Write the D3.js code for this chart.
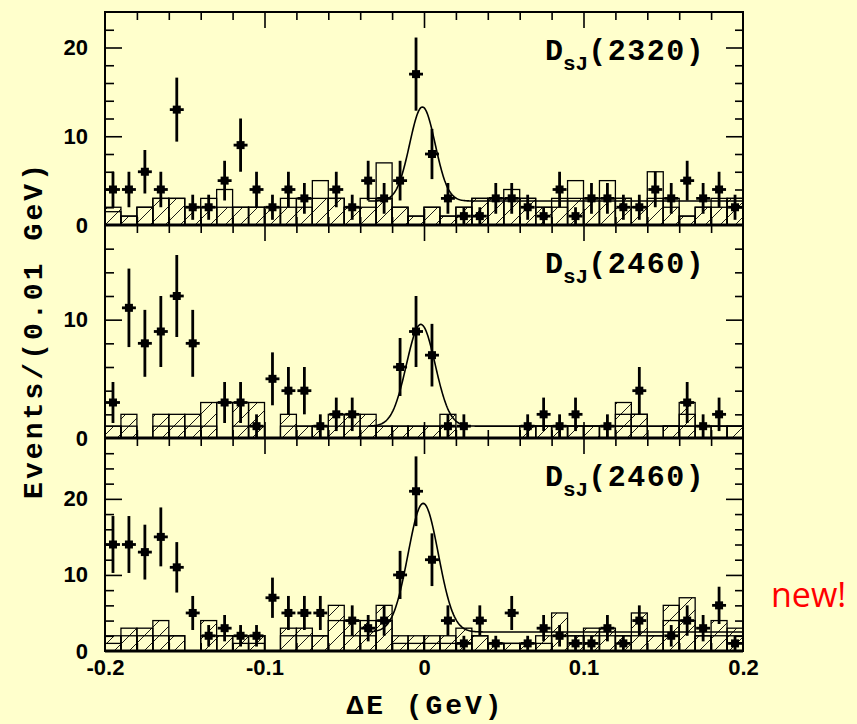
<!DOCTYPE html>
<html>
<head>
<meta charset="utf-8">
<script src="https://cdn.jsdelivr.net/npm/d3@7/dist/d3.min.js"></script>
<style>
html, body { margin: 0; padding: 0; background: #ffffcc; }
svg { display: block; }
</style>
</head>
<body>
<svg id="chart" width="857" height="724"></svg>
<script>
// 40 bins of 0.01 GeV from -0.2 to 0.2
var binLo = -0.2, binW = 0.01;

// events per bin (points with sqrt(N) errors)
var counts1 = [4,4,6,4,13,2,2,5,9,4, 2,4,3,0,4,2,5,3,5,17, 8,3,1,1,3,3,2,1,4,1, 3,3,2,2,4,3,5,3,4,2];
var counts2 = [3,11,8,9,12,8,0,3,3,1, 5,4,4,1,2,2,0,0,6,9, 7,1,1,0,0,0,1,2,1,2, 0,1,0,4,0,0,3,1,2,0];
var counts3 = [14,14,13,15,11,5,2,3,2,2, 7,5,5,5,0,4,3,4,10,21, 12,4,1,4,1,5,1,3,2,1, 1,3,1,4,0,2,4,3,6,1];

// hatched background histograms
var hatch1 = [2,1,2,3,3,2,2,2,2,2, 2,2,2,3,3,2,2,3,2,1, 2,1,2,3,3,3,3,2,2,3, 3,3,3,2,3,2,1,2,2,3];
var hatch2 = [1,2,0,2,2,2,3,0,3,3, 0,2,1,1,2,2,2,1,1,1, 1,2,0,0,0,0,1,1,1,1, 1,0,3,2,0,1,3,0,0,1];
var hatch3 = [2,3,3,4,2,0,4,2,2,2, 0,3,3,2,6,4,4,6,2,2, 2,2,3,2,1,1,1,2,5,2, 3,3,2,5,2,6,7,2,4,3];

// open (outline only) histograms
var open1 = [1.5,1,2,3,3,2,3,4,2,2, 2,3,3,5,3,2,3,7,2,1, 2,1,2,3,3,4,3,2,3,5, 3,5,3,2,6,3,1,2,3,3];
var open2 = [1,1,0,1,1,1,1,3,1,1, 0,1,1,1,1,1,1,1,1,1, 1,1,0,0,0,0,1,1,1,1, 1,1,2,2,0,1,2,1,1,1];
var open3 = [1,2,2,2,2,0,2,2,1,1, 0,2,2,2,4,2,2,4,1,1, 1,1,1,2,1,1,1,1,2,2, 2,2,2,2,2,4,4,2,2,2];

// gaussian + flat background fits
var fitBg    = [2.7, 1.0, 2.5];
var fitAmp   = [10.6, 8.6, 16.9];
var fitMean  = [-0.001, -0.002, -0.0005];
var fitSigma = [0.008, 0.009, 0.0095];
var fitFrom = -0.035, fitTo = 0.2;

var yMax = [24, 18, 28];
var yLabels = [[0,10,20], [0,10], [0,10,20]];
var panelNames = ["2320", "2460", "2460"];

var xTicks = [-0.2,-0.1,0,0.1,0.2];
var xTickLabels = ["-0.2","-0.1","0","0.1","0.2"];
var xMinor = [-0.18,-0.16,-0.14,-0.12,-0.08,-0.06,-0.04,-0.02,0.02,0.04,0.06,0.08,0.12,0.14,0.16,0.18];
var xMajor = [-0.1,0,0.1];

var width = 857, height = 724;
var margin = {top: 12, right: 114, bottom: 73, left: 105};
var panelH = (height - margin.top - margin.bottom) / 3;
var mono = "'Liberation Mono', 'Courier New', monospace";
var sans = "'Liberation Sans', Arial, sans-serif";

var svg = d3.select("#chart");

var x = d3.scaleLinear().domain([-0.2, 0.2]).range([margin.left, width - margin.right]);

svg.append("rect").attr("width", width).attr("height", height).attr("fill", "#ffffcc");

var defs = svg.append("defs");
defs.append("pattern")
    .attr("id", "hatch")
    .attr("patternUnits", "userSpaceOnUse")
    .attr("width", 15).attr("height", 15)
  .append("path")
    .attr("d", "M0,15 L15,0 M-4,4 L4,-4 M11,19 L19,11")
    .attr("stroke", "#000")
    .attr("stroke-width", 0.9);

var panels = [
  {counts: counts1, hatch: hatch1, open: open1},
  {counts: counts2, hatch: hatch2, open: open2},
  {counts: counts3, hatch: hatch3, open: open3}
];

function binX(i) { return binLo + i * binW; }

panels.forEach(function(p, k) {
  var top = margin.top + k * panelH, bottom = top + panelH;
  var y = d3.scaleLinear().domain([0, yMax[k]]).range([bottom, top]);

  defs.append("clipPath").attr("id", "clip" + k)
    .append("rect").attr("x", x(-0.2)).attr("y", top)
    .attr("width", x(0.2) - x(-0.2)).attr("height", panelH);

  var g = svg.append("g").attr("clip-path", "url(#clip" + k + ")");

  // hatched histogram, one box per bin
  p.hatch.forEach(function(v, i) {
    if (v <= 0) return;
    g.append("rect")
      .attr("x", x(binX(i))).attr("width", x(binX(i + 1)) - x(binX(i)))
      .attr("y", y(v)).attr("height", y(0) - y(v))
      .attr("fill", "url(#hatch)").attr("stroke", "#000").attr("stroke-width", 1.3);
  });

  p.open.forEach(function(v, i) {
    if (v <= 0) return;
    g.append("rect")
      .attr("x", x(binX(i))).attr("width", x(binX(i + 1)) - x(binX(i)))
      .attr("y", y(v)).attr("height", y(0) - y(v))
      .attr("fill", "none").attr("stroke", "#000").attr("stroke-width", 1.3);
  });

  // fit curve
  var fitPts = d3.range(fitFrom, fitTo + 0.0001, 0.0005);
  var line = d3.line()
    .x(function(e) { return x(e); })
    .y(function(e) {
      var z = (e - fitMean[k]) / fitSigma[k];
      return y(fitBg[k] + fitAmp[k] * Math.exp(-0.5 * z * z));
    });
  g.append("path").datum(fitPts).attr("d", line)
    .attr("fill", "none").attr("stroke", "#000").attr("stroke-width", 1.6);

  // data points
  var pts = p.counts.map(function(n, i) { return {c: binX(i) + binW / 2, lo: binX(i), hi: binX(i + 1), n: n}; })
                    .filter(function(d) { return d.n > 0; });
  var pg = g.selectAll(".pt").data(pts).enter().append("g");
  pg.append("line")
    .attr("x1", function(d) { return x(d.c); }).attr("x2", function(d) { return x(d.c); })
    .attr("y1", function(d) { return y(d.n + Math.sqrt(d.n)); })
    .attr("y2", function(d) { return y(d.n - Math.sqrt(d.n)); })
    .attr("stroke", "#000").attr("stroke-width", 2.8);
  pg.append("line")
    .attr("x1", function(d) { return x(d.lo) + 1; }).attr("x2", function(d) { return x(d.hi) - 1; })
    .attr("y1", function(d) { return y(d.n); }).attr("y2", function(d) { return y(d.n); })
    .attr("stroke", "#000").attr("stroke-width", 2.8);
  pg.append("rect")
    .attr("x", function(d) { return x(d.c) - 4; }).attr("y", function(d) { return y(d.n) - 4; })
    .attr("width", 8).attr("height", 8).attr("fill", "#000");

  // inward ticks on all four sides
  var yMinorVals = d3.range(2, yMax[k], 2).filter(function(v) { return v % 10 !== 0; });
  var yMajorVals = d3.range(10, yMax[k], 10);
  function tickStyle(sel) {
    sel.select(".domain").remove();
    sel.selectAll(".tick line").attr("stroke", "#000").attr("stroke-width", 1.6);
  }
  svg.append("g").attr("transform", "translate(0," + top + ")")
    .call(d3.axisTop(x).tickValues(xMinor).tickSize(-8).tickFormat("")).call(tickStyle);
  svg.append("g").attr("transform", "translate(0," + top + ")")
    .call(d3.axisTop(x).tickValues(xMajor).tickSize(-16).tickFormat("")).call(tickStyle);
  svg.append("g").attr("transform", "translate(0," + bottom + ")")
    .call(d3.axisBottom(x).tickValues(xMinor).tickSize(-8).tickFormat("")).call(tickStyle);
  svg.append("g").attr("transform", "translate(0," + bottom + ")")
    .call(d3.axisBottom(x).tickValues(xMajor).tickSize(-16).tickFormat("")).call(tickStyle);
  svg.append("g").attr("transform", "translate(" + x(-0.2) + ",0)")
    .call(d3.axisLeft(y).tickValues(yMinorVals).tickSize(-9).tickFormat("")).call(tickStyle);
  svg.append("g").attr("transform", "translate(" + x(-0.2) + ",0)")
    .call(d3.axisLeft(y).tickValues(yMajorVals).tickSize(-17).tickFormat("")).call(tickStyle);
  svg.append("g").attr("transform", "translate(" + x(0.2) + ",0)")
    .call(d3.axisRight(y).tickValues(yMinorVals).tickSize(-8).tickFormat("")).call(tickStyle);
  svg.append("g").attr("transform", "translate(" + x(0.2) + ",0)")
    .call(d3.axisRight(y).tickValues(yMajorVals).tickSize(-17).tickFormat("")).call(tickStyle);

  // y tick labels
  var yl = svg.append("g").attr("transform", "translate(" + x(-0.2) + ",0)")
    .call(d3.axisLeft(y).tickValues(yLabels[k]).tickSize(0).tickPadding(17).tickFormat(d3.format("d")));
  yl.select(".domain").remove();
  yl.selectAll("text").attr("font-family", sans)
    .attr("font-weight", "bold").attr("font-size", 22).attr("fill", "#000");

  // frame
  svg.append("rect").attr("x", x(-0.2)).attr("y", top)
    .attr("width", x(0.2) - x(-0.2)).attr("height", panelH)
    .attr("fill", "none").attr("stroke", "#000").attr("stroke-width", 2);
  svg.append("line").attr("x1", x(-0.2)).attr("x2", x(0.2))
    .attr("y1", bottom).attr("y2", bottom).attr("stroke", "#000").attr("stroke-width", 3);

  // panel label D_sJ(xxxx)
  var lab = svg.append("text").attr("x", 545).attr("y", top + 48)
    .attr("font-family", mono)
    .attr("font-weight", "bold").attr("font-size", 30).attr("fill", "#000");
  lab.append("tspan").text("D");
  lab.append("tspan").attr("font-size", 21).attr("dy", 10).text("sJ");
  lab.append("tspan").attr("dy", -10).attr("letter-spacing", 1.5).text("(" + panelNames[k] + ")");
});

// x tick labels under the bottom panel
var xl = svg.append("g").attr("transform", "translate(0," + (height - margin.bottom) + ")")
  .call(d3.axisBottom(x).tickValues(xTicks).tickSize(0).tickPadding(8)
    .tickFormat(function(d, i) { return xTickLabels[i]; }));
xl.select(".domain").remove();
xl.selectAll("text").attr("font-family", sans)
  .attr("font-weight", "bold").attr("font-size", 22).attr("fill", "#000");

// axis titles
svg.append("text").attr("x", x(0)).attr("y", 714).attr("text-anchor", "middle")
  .attr("font-family", mono)
  .attr("font-weight", "bold").attr("font-size", 28).attr("fill", "#000")
  .attr("textLength", 155).attr("lengthAdjust", "spacing")
  .text("\u0394E (GeV)");

svg.append("text").attr("transform", "translate(42," + (margin.top + 1.5 * panelH) + ") rotate(-90)")
  .attr("text-anchor", "middle")
  .attr("font-family", mono)
  .attr("font-weight", "bold").attr("font-size", 28).attr("fill", "#000")
  .attr("textLength", 335).attr("lengthAdjust", "spacing")
  .text("Events/(0.01 GeV)");

svg.append("text").attr("x", 771).attr("y", 607)
  .attr("font-family", "'Open Sans', 'Noto Sans', sans-serif")
  .attr("font-size", 34).attr("fill", "#ff0000")
  .text("new!");
</script>
</body>
</html>
